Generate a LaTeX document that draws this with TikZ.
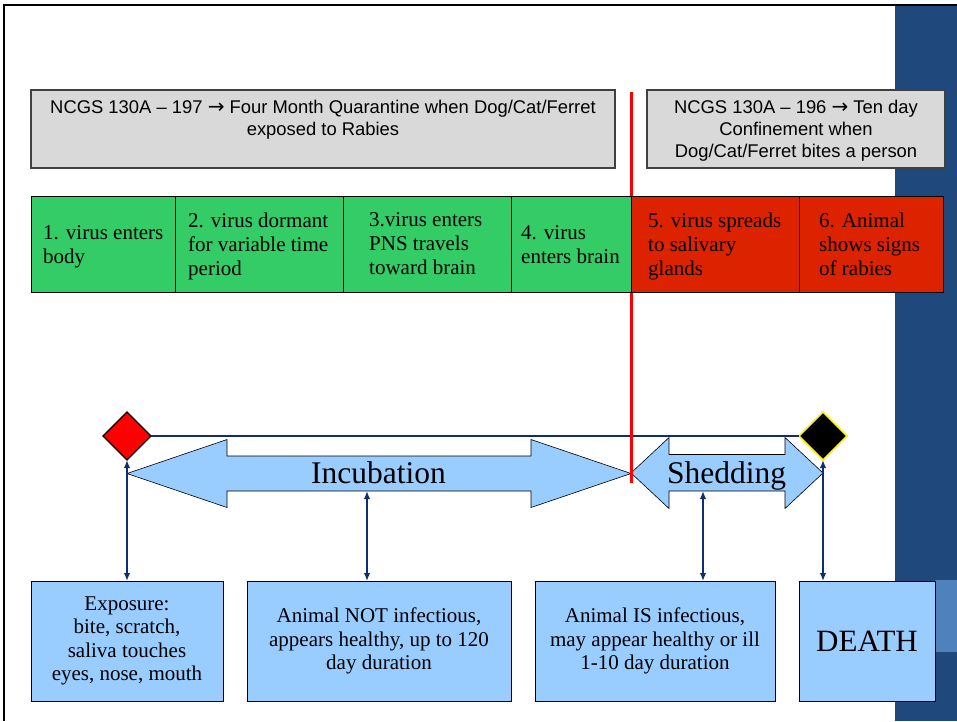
\documentclass[tikz,border=0pt]{standalone}
\usepackage{fontspec}
\setmainfont{Liberation Serif}
\newfontfamily\arialfont{Liberation Sans}
\newfontfamily\arrowfont{DejaVu Sans}
\usetikzlibrary{shapes.geometric,arrows.meta}

\definecolor{stagegreen}{RGB}{51,204,102}
\definecolor{stagered}{RGB}{221,34,0}
\definecolor{boxgray}{RGB}{217,217,217}
\definecolor{paleblue}{RGB}{153,204,255}
\definecolor{linknavy}{RGB}{16,45,110}
\definecolor{barblue}{RGB}{31,73,125}
\definecolor{tabblue}{RGB}{79,129,189}

% soft grey towards the corners of the slide
\pgfdeclareradialshading{slidefade}{\pgfpoint{0bp}{0bp}}{%
  color(0bp)=(white); color(53bp)=(white); color(72bp)=(black!18)}

% the arrow used in the statute references
\newcommand{\lawarrow}{{\arrowfont\fontsize{20}{22}\selectfont →}}

\tikzset{
  lawbox/.style={draw=black!75, line width=1.2pt, fill=boxgray,
    inner sep=0pt, outer sep=0pt, minimum height=78pt},
  lawtext/.style={font=\arialfont\fontsize{18.4}{22}\selectfont,
    align=center, inner sep=0pt},
  stagecell/.style={draw=black, line width=1pt, inner sep=0pt,
    outer sep=0pt, minimum height=96pt},
  stagetext/.style={font=\fontsize{21}{24}\selectfont, align=left,
    anchor=west, inner sep=0pt},
  phasearrow/.style={fill=paleblue, draw=black, line width=0.6pt,
    line join=miter},
  phaselabel/.style={font=\fontsize{31.5}{36}\selectfont, anchor=base,
    inner sep=0pt},
  marker/.style={diamond, aspect=1, minimum size=48pt, inner sep=0pt,
    outer sep=0pt},
  outcome/.style={draw=black, line width=0.8pt, fill=paleblue,
    minimum height=120pt, inner sep=0pt, outer sep=0pt, align=center,
    font=\fontsize{21}{23.5}\selectfont},
  conn/.style={draw=linknavy, line width=1.6pt, <->,
    >={Latex[length=8pt,width=6.5pt]}},
}

\begin{document}
\begin{tikzpicture}[x=1pt, y=-1pt]
\useasboundingbox (0,0) rectangle (957,721);

% slide background, side bar and frame
\fill[white] (0,0) rectangle (957,721);
\shade[shading=slidefade] (4,5) rectangle (895,721);
\fill[barblue] (895,5) rectangle (957,721);
\fill[tabblue] (935,580) rectangle (957,652);
\draw[line width=2.5pt] (4,721) -- (4,5) -- (957,5);

% statute boxes
\node[lawbox, minimum width=584pt] (q197) at (323,129) {};
\node[lawtext] (q197t) at (323,120)
  {NCGS 130A – 197 \lawarrow{} Four Month Quarantine when Dog/Cat/Ferret\\exposed to Rabies};
\node[lawbox, minimum width=298pt] (q196) at (796,129) {};
\node[lawtext] (q196t) at (796,131)
  {NCGS 130A – 196 \lawarrow{} Ten day\\Confinement when\\Dog/Cat/Ferret bites a person};

% incubation and shedding arrows
\draw[phasearrow] (127,473.5) -- (227,439.5) -- (227,456) -- (531,456)
  -- (531,439.5) -- (631,473.5) -- (531,507.5) -- (531,491) -- (227,491)
  -- (227,507.5) -- cycle;
\node[phaselabel] (incub) at (378.5,483) {Incubation};
\coordinate (incS) at (367,491);

\draw[phasearrow] (631,473) -- (669,437.5) -- (669,454.5) -- (785,454.5)
  -- (785,437.5) -- (823,473) -- (785,508.5) -- (785,491) -- (669,491)
  -- (669,508.5) -- cycle;
\node[phaselabel] (shed) at (726.5,483) {Shedding};
\coordinate (shedS) at (703,491);

% time markers and the line between them
\node[marker, fill=red, draw=black, line width=1.2pt] (onset) at (127,436) {};
\node[marker, fill=black, draw=yellow, line width=1.5pt] (fatal) at (823,436) {};
\draw[draw=linknavy, line width=1.8pt] (onset.east) -- (fatal.west);

% divider between quarantine and confinement
\coordinate (divtop) at (631,92);
\coordinate (divbot) at (631,483);
\draw[red, line width=3pt] (divtop) -- (divbot);

% stages of infection
\node[stagecell, fill=stagegreen, minimum width=144pt] (c1) at (103,244) {};
\node[stagecell, fill=stagegreen, minimum width=168pt] (c2) at (259,244) {};
\node[stagecell, fill=stagegreen, minimum width=168pt] (c3) at (427,244) {};
\node[stagecell, fill=stagegreen, minimum width=120pt] (c4) at (571,244) {};
\node[stagecell, fill=stagered, minimum width=168pt] (c5) at (715,244) {};
\node[stagecell, fill=stagered, minimum width=144pt] (c6) at (871,244) {};

\node[stagetext] (t1) at (43,247) {1. virus enters\\body};
\node[stagetext] (t2) at (188,246) {2. virus dormant\\for variable time\\period};
\node[stagetext] (t3) at (369,244) {3.virus enters\\PNS travels\\toward brain};
\node[stagetext] (t4) at (521,245) {4. virus\\enters brain};
\node[stagetext] (t5) at (648,246) {5. virus spreads\\to salivary\\glands};
\node[stagetext] (t6) at (819,244) {6. Animal\\shows signs\\of rabies};

% outcome boxes
\node[outcome, minimum width=192pt] (expo) at (127,641)
  {Exposure:\\bite, scratch,\\saliva touches\\eyes, nose, mouth};
\node[outcome, minimum width=264pt] (notinf) at (379,641)
  {Animal NOT infectious,\\appears healthy, up to 120\\day duration};
\node[outcome, minimum width=240pt] (isinf) at (655,641)
  {Animal IS infectious,\\may appear healthy or ill\\1-10 day duration};
\node[outcome, minimum width=136pt, font=\fontsize{31}{36}\selectfont] (death) at (867,641)
  {DEATH};

% connectors
\draw[conn] (onset.south) -- (onset.south |- expo.north);
\draw[conn] (incS) -- (incS |- notinf.north);
\draw[conn] (shedS) -- (shedS |- isinf.north);
\draw[conn] (fatal.south) -- (fatal.south |- death.north);
\end{tikzpicture}
\end{document}
